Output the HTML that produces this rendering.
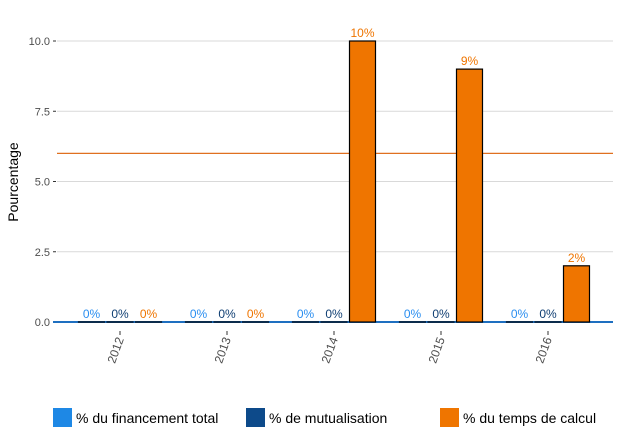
<!DOCTYPE html>
<html><head><meta charset="utf-8"><style>
body{margin:0;background:#fff;font-family:"Liberation Sans",sans-serif}
svg text{font-family:"Liberation Sans",sans-serif}
</style></head><body>
<svg id="chart" width="620" height="442"></svg>
<script>
const years = ["2012","2013","2014","2015","2016"];
const financement = [0,0,0,0,0];
const mutualisation = [0,0,0,0,0];
const tempsCalcul = [0,0,10,9,2];
const refLine = 6;
const yTicks = [0,2.5,5,7.5,10];
const yTickLabels = ["0.0","2.5","5.0","7.5","10.0"];
const seriesNames = ["% du financement total","% de mutualisation","% du temps de calcul"];
const colors = ["#1e88e5","#0d4a8a","#ef7500"];
const labelColors = ["#2a8ef0","#103f73","#ef7500"];

const svg = document.getElementById('chart');
const NS = "http://www.w3.org/2000/svg";
const x0 = 57, x1 = 613;
const y = v => 322 - v * 28.1;
const xg = i => 120 + i * 107;
function mk(t, a, p){const e=document.createElementNS(NS,t);for(const k in a)e.setAttribute(k,a[k]);(p||svg).appendChild(e);return e;}

yTicks.forEach((v,i)=>{
  const g=mk('line',{x1:x0,x2:x1,y1:y(v),y2:y(v),stroke:'#d9d9d9','stroke-width':1});
  
  
  const tk=mk('line',{x1:53,x2:56,y1:y(v),y2:y(v),stroke:'#333'});
  
  
  const t=mk('text',{x:50,y:y(v)+4,'text-anchor':'end','font-size':11,fill:'#4d4d4d'});
  t.textContent=yTickLabels[i];
  
  
});
const yt=mk('text',{x:18,y:182,'text-anchor':'middle','font-size':14,fill:'#000',transform:'rotate(-90 18 182)'});
yt.textContent='Pourcentage';



const rl=mk('line',{x1:x0,x2:x1,y1:y(refLine),y2:y(refLine),stroke:'#e07020','stroke-width':1.2});



const base=mk('line',{x1:x0-4,x2:x1,y1:322,y2:322,stroke:'#1e6fc0','stroke-width':2});



const series=[financement,mutualisation,tempsCalcul];
const bw=26;
years.forEach((yr,i)=>{
  series.forEach((s,j)=>{
    const cx=xg(i)+(j-1)*28.5;
    const v=s[i];
    const r=mk('rect',{x:cx-bw/2,y:y(v),width:bw,height:Math.max(0.01,y(0)-y(v)),fill:colors[j],stroke:'#000','stroke-width':1.2});
    
    
    const t=mk('text',{x:cx,y:y(v)-4,'text-anchor':'middle','font-size':12,fill:labelColors[j]});
    t.textContent=Math.round(v)+'%';
    
    
  });
  const tk=mk('line',{x1:xg(i),x2:xg(i),y1:331,y2:335,stroke:'#333'});
  
  
  const lx=xg(i)+4, ly=339;
  const t=mk('text',{x:lx,y:ly,'text-anchor':'end','font-size':12,fill:'#4d4d4d',transform:`rotate(-70 ${lx} ${ly})`});
  t.textContent=yr;
  
  
});

const lxs=[53,246,440];
seriesNames.forEach((n,j)=>{
  const r=mk('rect',{x:lxs[j],y:408,width:19,height:19,fill:colors[j]});
  
  
  const t=mk('text',{x:lxs[j]+23,y:423,'font-size':14,fill:'#000'});
  t.textContent=n;
  
  
});
</script>
</body></html>
